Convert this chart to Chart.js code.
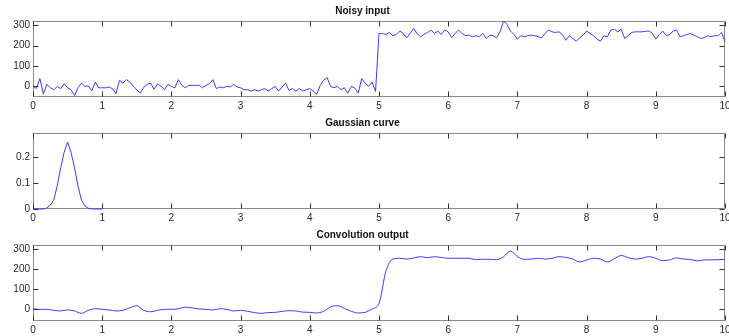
<!DOCTYPE html>
<html>
<head>
<meta charset="utf-8">
<script src="https://cdn.jsdelivr.net/npm/chart.js@4.4.0/dist/chart.umd.min.js"></script>
<style>
  body { margin: 0; background: #fff; }
  canvas { position: absolute; left: 0; }
</style>
</head>
<body>
<canvas id="c1" width="729" height="112" style="top:0px"></canvas>
<canvas id="c2" width="729" height="112" style="top:112px"></canvas>
<canvas id="c3" width="729" height="112" style="top:224px"></canvas>
<script>
// sample spacing of the signals (x axis 0..10)
const dtInput = 0.05;
const dtGauss = 0.05;
const dtConv = 0.1;

// noisy step input
const noisyInput = [
  0, -10, 38, -38, 10, -7, -16, 0, -11, 13, -7, -16, -45, -7, 16, 0, 2, -23, 21, -7,
  -7, -7, -3, -12, -36, 30, 16, 33, 21, 0, -16, -33, -5, 10, 16, -14, 13, 0, -16, 10,
  0, -7, 33, 5, -7, 5, 5, 5, 5, -7,
  5, 13, 33, -11, -3, -7, 0, -3, 10, -3, -7, -16,
  -16, -23, -16, -23, -16, -11, -23, -11, 0, -23, -3, 16, -20, -11, -23, -11, -23, -16, -11, -23,
  -39, 5, 30, 43, 0, -7, 0, -16, -7, -33, 0, -8, -33, 38, 16, 0, 21, -25,
  259, 259, 254, 264, 248, 254, 271, 259, 238, 259, 284, 259, 243, 254, 264, 276, 259, 271, 254, 276,
  267, 238, 259, 276, 259, 248, 251, 243, 248, 243, 259, 235, 251, 248, 238, 267, 320, 303, 271, 254,
  231, 248, 243, 248, 251, 248, 243, 238, 259, 276,
  267, 264, 267, 254, 226, 248, 235, 221, 238, 251, 271, 259, 248, 231, 221, 248, 243, 276, 280, 267,
  280, 235, 248, 264, 267, 267, 267, 269, 271, 259, 231, 254, 271, 248, 254, 271, 276, 243, 248, 254,
  259, 251, 243, 235, 238, 248, 243, 248, 248, 264, 218
];

// gaussian kernel, 0..1
const gaussCurve = [
  0, 0, 0, 0, 0.004, 0.015, 0.035, 0.09, 0.16, 0.22, 0.26,
  0.22, 0.16, 0.09, 0.035, 0.012, 0.003, 0, 0, 0, 0
];

// smoothed output
const convOutput = [
  3, 0, 0, -5, -8, -3, -8, -20, -5, 3,
  0, -3, -8, -5, 8, 18, -5, -12, -5, 0,
  0, 3, 11, 7, 2, 0, -3, 3, 0, -8,
  -5, -10, -16, -20, -16, -15, -10, -7, -8, -14,
  -15, -18, -10, 12, 18, 5, -10, -18, -15, 2,
  30, 190, 250, 254, 250, 255, 262, 257, 262, 258,
  254, 254, 254, 254, 247, 249, 249, 247, 262, 290,
  262, 249, 250, 254, 250, 254, 262, 258, 250, 236,
  245, 254, 250, 236, 252, 268, 257, 250, 254, 262,
  254, 242, 246, 256, 250, 248, 241, 246, 246, 247,
  249
];

const titles = ["Noisy input", "Gaussian curve", "Convolution output"];

Chart.defaults.font.family = "Arial, 'Liberation Sans', Helvetica, sans-serif";
Chart.defaults.font.size = 10;
Chart.defaults.color = "#262626";

function toPoints(vals, dt) {
  return vals.map((v, i) => ({ x: +(i * dt).toFixed(3), y: v }));
}

function boxEdges(a) {
  return {
    L: Math.round(a.left) + 0.5, R: Math.round(a.right) - 0.5,
    T: Math.round(a.top) + 0.5, B: Math.round(a.bottom) - 0.5
  };
}

// matlab style box with ticks pointing inwards
const matlabAxes = {
  id: "matlabAxes",
  beforeDatasetsDraw(chart) {
    const { ctx } = chart;
    const { L, R, T, B } = boxEdges(chart.chartArea);
    ctx.save();
    ctx.lineWidth = 1;
    ctx.strokeStyle = "#8a8a8a";
    ctx.strokeRect(L, T, R - L, B - T);
    ctx.restore();
  },
  afterDatasetsDraw(chart) {
    const { ctx, scales: { x, y } } = chart;
    const { L, R, T, B } = boxEdges(chart.chartArea);
    ctx.save();
    ctx.lineWidth = 1;
    ctx.strokeStyle = "#333";
    ctx.beginPath();
    x.ticks.forEach(t => {
      const px = Math.round(x.getPixelForValue(t.value)) + 0.5;
      ctx.moveTo(px, B); ctx.lineTo(px, B - 5);
      ctx.moveTo(px, T); ctx.lineTo(px, T + 5);
    });
    y.ticks.forEach(t => {
      const py = Math.round(y.getPixelForValue(t.value)) + 0.5;
      ctx.moveTo(L, py); ctx.lineTo(L + 5, py);
      ctx.moveTo(R, py); ctx.lineTo(R - 5, py);
    });
    ctx.stroke();
    ctx.restore();
  }
};

function makeChart(id, title, points, ymin, ymax, ystep, smooth) {
  const ctx = document.getElementById(id).getContext("2d");
  return new Chart(ctx, {
    type: "line",
    data: {
      datasets: [{
        data: points,
        borderColor: "rgb(60, 60, 255)",
        borderWidth: 1,
        pointRadius: 0,
        fill: false,
        clip: 2,
        tension: 0,
        cubicInterpolationMode: smooth ? "monotone" : "default"
      }]
    },
    options: {
      responsive: false,
      animation: false,
      layout: { autoPadding: false, padding: { left: 0, right: 4, top: 0, bottom: 0 } },
      plugins: {
        legend: { display: false },
        tooltip: { enabled: false },
        title: {
          display: true,
          text: title,
          color: "#111",
          font: { size: 10, weight: "bold", lineHeight: 1.2 },
          padding: { top: 5, bottom: 4 }
        }
      },
      scales: {
        x: {
          type: "linear",
          min: 0,
          max: 10,
          grid: { display: false, drawTicks: false },
          border: { display: false },
          ticks: { stepSize: 1, includeBounds: false, padding: 3, maxRotation: 0, autoSkip: false },
          afterFit: s => { s.height = 15; s.paddingLeft = 0; s.paddingRight = 0; }
        },
        y: {
          min: ymin,
          max: ymax,
          grid: { display: false, drawTicks: false },
          border: { display: false },
          ticks: { stepSize: ystep, includeBounds: false, padding: 3 },
          afterFit: s => { s.width = 33; s.paddingTop = 0; s.paddingBottom = 0; }
        }
      }
    },
    plugins: [matlabAxes]
  });
}

makeChart("c1", titles[0], toPoints(noisyInput, dtInput), -52, 320, 100, false);
makeChart("c2", titles[1], toPoints(gaussCurve, dtGauss), 0, 0.295, 0.1, false);
makeChart("c3", titles[2], toPoints(convOutput, dtConv), -58, 320, 100, true);
</script>
</body>
</html>
